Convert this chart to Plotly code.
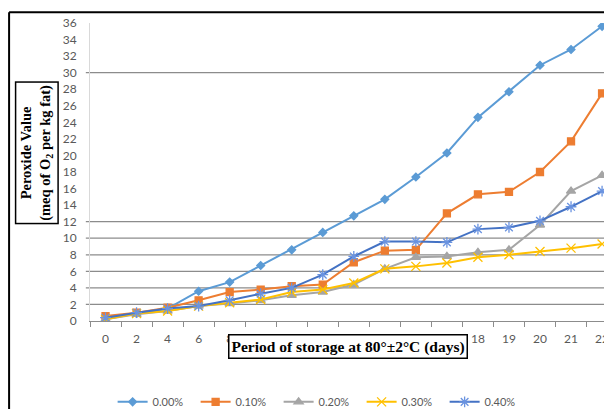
import plotly.graph_objects as go

days = ["0", "2", "4", "6", "8", "10", "12", "13", "14", "15", "16", "17", "18", "19", "20", "21", "22"]
names = ["0.00%", "0.10%", "0.20%", "0.30%", "0.40%"]
pv_000 = [0.4, 0.9, 1.5, 3.6, 4.7, 6.7, 8.6, 10.7, 12.7, 14.7, 17.4, 20.3, 24.6, 27.7, 30.9, 32.8, 35.6]
pv_010 = [0.6, 1.0, 1.6, 2.5, 3.5, 3.8, 4.2, 4.4, 7.1, 8.5, 8.6, 13.0, 15.3, 15.6, 18.0, 21.7, 27.5]
pv_020 = [0.2, 0.8, 1.2, 1.8, 2.1, 2.5, 3.1, 3.5, 4.4, 6.3, 7.7, 7.8, 8.3, 8.6, 11.6, 15.7, 17.6]
pv_030 = [0.2, 0.9, 1.2, 1.8, 2.2, 2.6, 3.5, 3.8, 4.6, 6.3, 6.6, 7.0, 7.7, 8.0, 8.4, 8.8, 9.3]
pv_040 = [0.4, 1.0, 1.5, 1.8, 2.5, 3.3, 4.0, 5.6, 7.8, 9.6, 9.6, 9.5, 11.1, 11.3, 12.1, 13.8, 15.7]
grid_values = [2, 4, 6, 8, 10, 12, 30]
y_ticks = list(range(0, 37, 2))

series = [pv_000, pv_010, pv_020, pv_030, pv_040]
line_colors = ["#5B9BD5", "#ED7D31", "#A5A5A5", "#FFC000", "#4472C4"]
marker_colors = ["#5B9BD5", "#ED7D31", "#A5A5A5", "#FFC000", "#6A93E0"]
symbols = ["diamond", "square", "triangle-up", "x-thin-open", "asterisk-open"]
sizes = [6, 7, 8, 9, 9]

fig = go.Figure()
for nm, vals, lc, mc, sym, sz in zip(names, series, line_colors, marker_colors, symbols, sizes):
    fig.add_trace(go.Scatter(
        x=days, y=vals, name=nm, mode="lines+markers",
        line=dict(color=lc, width=2),
        marker=dict(symbol=sym, size=sz, color=mc, line=dict(color=mc, width=1.3)),
    ))

shapes = []
for g in grid_values:
    shapes.append(dict(type="line", xref="paper", yref="y", x0=-0.008, x1=1, y0=g, y1=g,
                       line=dict(color="#8C8C8C", width=1.3), layer="below"))
# outer frame
shapes.append(dict(type="line", xref="paper", yref="paper", x0=-0.155, x1=1.1, y0=1.036, y1=1.036,
                   line=dict(color="black", width=2)))
shapes.append(dict(type="line", xref="paper", yref="paper", x0=-0.155, x1=-0.155, y0=1.036, y1=-0.35,
                   line=dict(color="black", width=2)))

fig.update_layout(
    width=612, height=409,
    margin=dict(l=82, r=8, t=15, b=96, autoexpand=False),
    paper_bgcolor="white", plot_bgcolor="white",
    showlegend=True,
    legend=dict(orientation="h", xref="container", yref="container", x=0.51, y=0.037,
                xanchor="center", yanchor="middle",
                font=dict(family="Lato, sans-serif", size=11, color="#595959"),
                entrywidth=38, entrywidthmode="pixels", itemwidth=30),
    shapes=shapes,
    xaxis=dict(type="category", range=[-0.5, 16.32], showgrid=False, automargin=False,
               showline=True, linecolor="#8C8C8C", linewidth=1.3,
               ticks="outside", tickson="boundaries", ticklen=5, tickcolor="#8C8C8C",
               tickfont=dict(family="Lato, sans-serif", size=12, color="#595959"),
               ticklabelstandoff=6, fixedrange=True),
    yaxis=dict(range=[0, 36], tickvals=y_ticks, showgrid=False, zeroline=False, automargin=False,
               showline=True, linecolor="#D9D9D9", linewidth=1,
               ticks="", ticklabelstandoff=10,
               tickfont=dict(family="Lato, sans-serif", size=12, color="#595959")),
    annotations=[
        dict(xref="paper", yref="paper", x=-0.1014, y=0.563, textangle=-90,
             xanchor="center", yanchor="middle",
             text="Peroxide Value<br>(meq of O<sub>2</sub> per kg fat)", showarrow=False,
             font=dict(family="Liberation Serif, serif", size=14.5, color="black", weight="bold"),
             bordercolor="black", borderwidth=1.5, borderpad=2, bgcolor="white"),
        dict(xref="paper", yref="paper", x=0.495, y=-0.085,
             xanchor="center", yanchor="middle",
             text="Period of storage at 80°±2°C (days)", showarrow=False,
             font=dict(family="Liberation Serif, serif", size=15.5, color="black", weight="bold"),
             bordercolor="black", borderwidth=1.5, borderpad=2, bgcolor="white"),
    ],
)

fig.write_html("out.html")
